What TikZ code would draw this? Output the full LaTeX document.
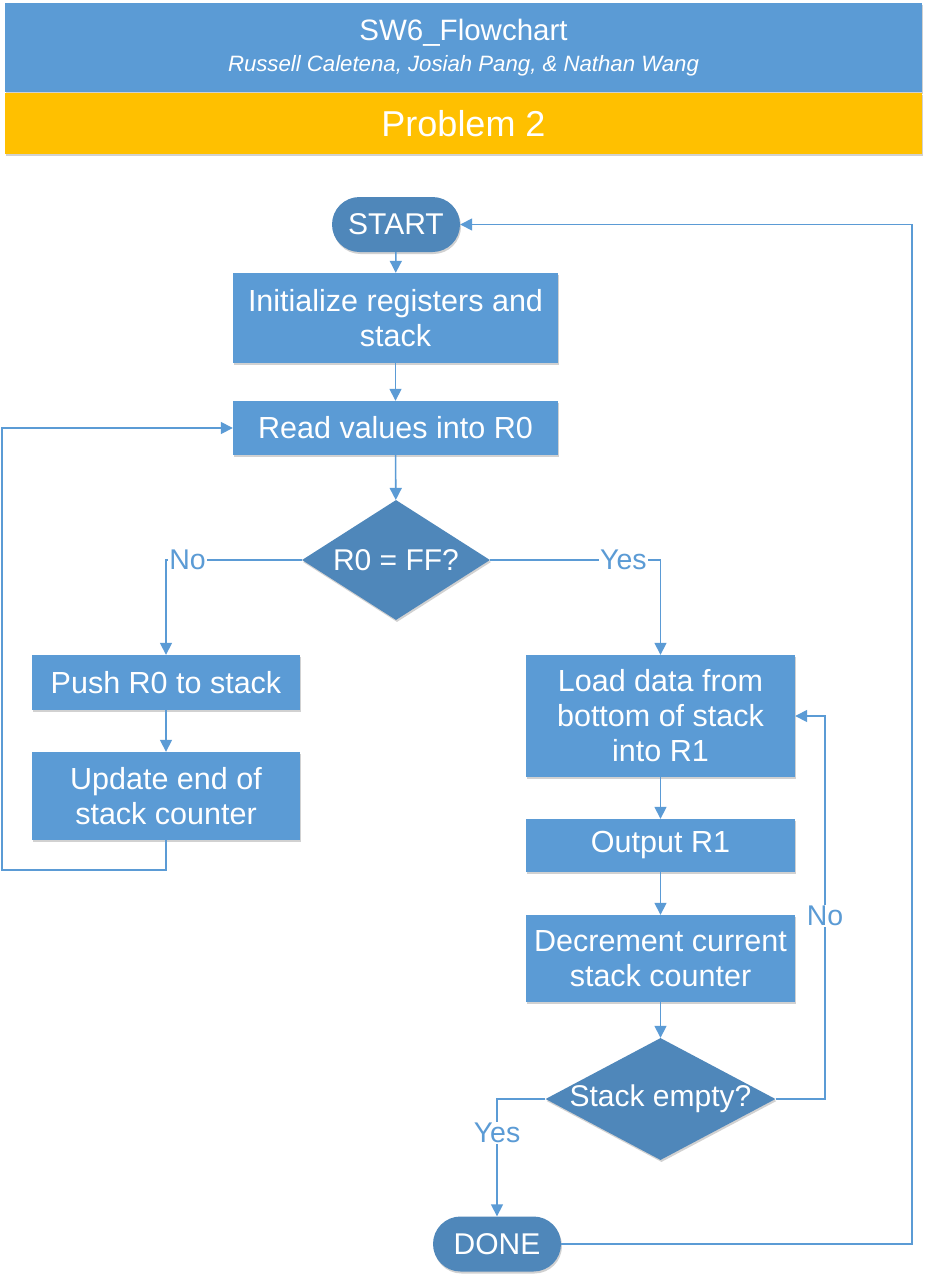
\documentclass[tikz,border=0pt]{standalone}
\usepackage{fontspec}
\setmainfont{Liberation Sans}
\usetikzlibrary{arrows.meta,shadows,shapes.geometric}
\definecolor{boxblue}{HTML}{5B9BD5}
\definecolor{darkblue}{HTML}{4F87BA}
\definecolor{gold}{HTML}{FFC000}
\definecolor{linec}{HTML}{5B9BD5}
\begin{document}
\begin{tikzpicture}[x=1pt,y=-1pt,
  shd/.style={drop shadow={shadow xshift=1pt,shadow yshift=-2pt,fill=black,opacity=0.18}},
  procbox/.style={rectangle,fill=boxblue,text=white,inner sep=0pt,align=center,
    font=\fontsize{30.5}{35}\selectfont,shd},
  pill/.style={rectangle,rounded corners=27.5pt,fill=darkblue,text=white,inner sep=0pt,
    minimum width=128pt,minimum height=55pt,font=\fontsize{30}{35}\selectfont,shd},
  decision/.style={diamond,fill=darkblue,text=white,inner sep=0pt,
    font=\fontsize{30}{35}\selectfont,shd},
  conn/.style={draw=linec,line width=1.6pt,-{Triangle[length=12pt,width=12pt]}},
  lbl/.style={fill=white,text=linec,inner sep=1pt,font=\fontsize{28.5}{32}\selectfont},
]
\useasboundingbox (0,0) rectangle (929,1282);
\fill[white] (0,0) rectangle (929,1282);

% header
\node[rectangle,fill=boxblue,minimum width=917pt,minimum height=89pt,inner sep=0pt,shd] (header) at (463.5,47.5) {};
\node[text=white,font=\fontsize{29.5}{35}\selectfont,inner sep=0pt] (title) at (463.5,33) {SW6\_Flowchart};
\node[text=white,font=\fontsize{22.2}{26}\selectfont\itshape,inner sep=0pt] (authors) at (463.5,66) {Russell Caletena, Josiah Pang, \& Nathan Wang};
\node[rectangle,fill=gold,minimum width=917pt,minimum height=61pt,inner sep=0pt,text=white,
  font=\fontsize{36}{42}\selectfont,shd] (problem) at (463.5,123.5) {Problem 2};

% nodes
\node[pill] (start) at (396,224.5) {START};
\node[procbox,minimum width=325pt,minimum height=90pt] (init) at (395.5,318) {Initialize registers and\\stack};
\node[procbox,minimum width=325pt,minimum height=54pt] (read) at (395.5,428) {Read values into R0};
\node[decision,minimum width=188pt,minimum height=120pt] (d1) at (396,560) {\makebox[0pt]{R0 = FF?}};
\node[procbox,minimum width=268pt,minimum height=55pt] (push) at (166,682.5) {Push R0 to stack};
\node[procbox,minimum width=268pt,minimum height=88pt] (update) at (166,796) {Update end of\\stack counter};
\node[procbox,minimum width=269pt,minimum height=122pt] (load) at (660.5,716) {Load data from\\bottom of stack\\into R1};
\node[procbox,minimum width=269pt,minimum height=53pt] (output) at (660.5,845.5) {Output R1};
\node[procbox,minimum width=269pt,minimum height=87pt] (decr) at (660.5,958.5) {Decrement current\\stack counter};
\node[decision,minimum width=230pt,minimum height=122pt] (d2) at (660.5,1099) {\makebox[0pt]{Stack empty?}};
\node[pill] (done) at (497,1244) {DONE};

\coordinate (cL) at (2,870);
\coordinate (cN) at (825,716);
\coordinate (cR) at (912,1244);

% connectors
\draw[conn] (start) -- (init);
\draw[conn] (init) -- (read);
\draw[conn] (read) -- (d1);
\draw[conn] (d1.west) -| node[pos=0.5,anchor=west,xshift=1.5pt,lbl] (no1) {No} (push.north);
\draw[conn] (push) -- (update);
\draw[conn] (update.south) |- (cL) |- (read.west);
\draw[conn] (d1.east) -| node[pos=0.391,lbl] (yes1) {Yes} (load.north);
\draw[conn] (load) -- (output);
\draw[conn] (output) -- (decr);
\draw[conn] (decr) -- (d2);
\draw[conn] (d2.east) -| node[pos=0.739,lbl] (no2) {No} (cN) -- (load.east);
\draw[conn] (d2.west) -| node[pos=0.645,lbl] (yes2) {Yes} (done.north);
\draw[conn] (done.east) -- (cR) |- (start.east);
\end{tikzpicture}
\end{document}
